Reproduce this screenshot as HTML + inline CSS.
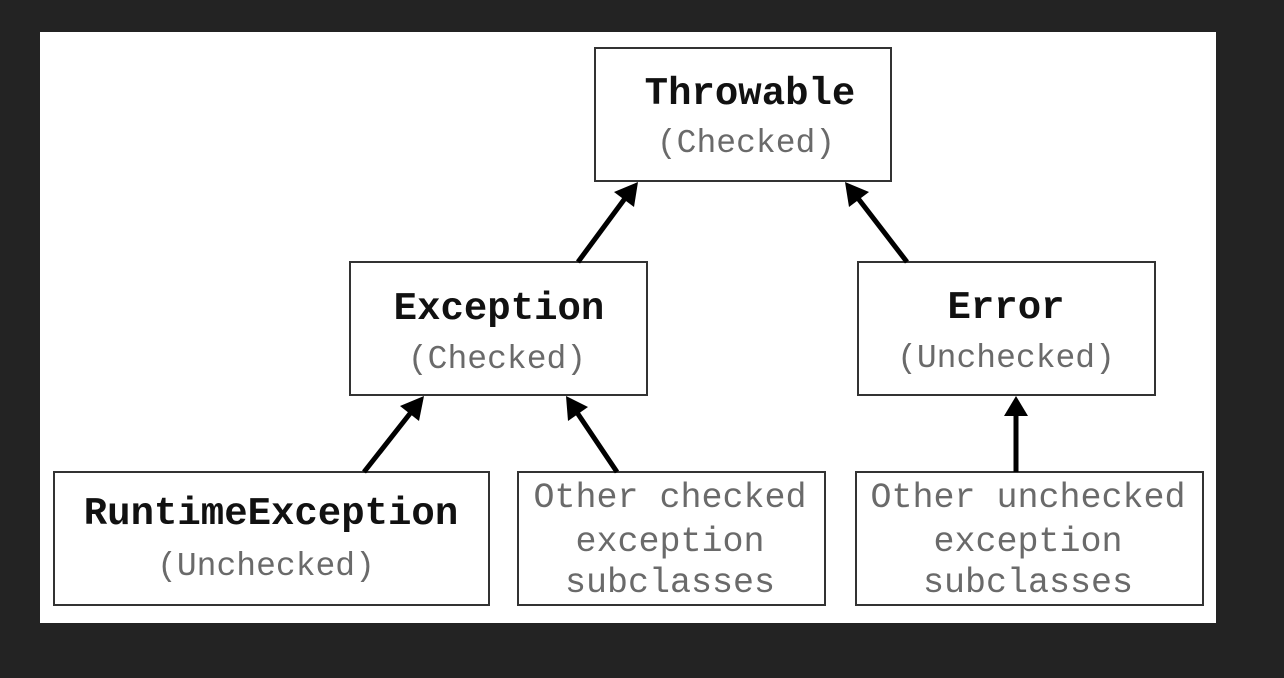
<!DOCTYPE html>
<html><head><style>
html,body{margin:0;padding:0;background:#222;}
svg{display:block}
.b{font-family:"Liberation Mono",monospace;font-weight:bold;fill:#111;}
.s{font-family:"Liberation Mono",monospace;fill:#6a6a6a;}
</style></head><body>
<svg width="1284" height="678" xmlns="http://www.w3.org/2000/svg">
<rect x="0" y="0" width="1284" height="678" fill="#232323"/>
<rect x="40" y="32" width="1176" height="591" fill="#fff"/>
<g fill="#fff" stroke="#333" stroke-width="2">
<rect x="595" y="48" width="296" height="133"/>
<rect x="350" y="262" width="297" height="133"/>
<rect x="858" y="262" width="297" height="133"/>
<rect x="54" y="472" width="435" height="133"/>
<rect x="518" y="472" width="307" height="133"/>
<rect x="856" y="472" width="347" height="133"/>
</g>
<g stroke="#000" stroke-width="5" fill="#000">
<line x1="578" y1="262" x2="626" y2="197"/><path d="M638,182 L634,207 L614,192 Z" stroke="none"/>
<line x1="907" y1="262" x2="857" y2="197"/><path d="M845,182 L849,207 L869,192 Z" stroke="none"/>
<line x1="364" y1="472" x2="412" y2="411"/><path d="M424,396 L419,421 L400,406 Z" stroke="none"/>
<line x1="617" y1="472" x2="576" y2="411"/><path d="M566,396 L568,421 L588,407 Z" stroke="none"/>
<line x1="1016" y1="472" x2="1016" y2="412"/><path d="M1016,396 L1028,416 L1004,416 Z" stroke="none"/>
</g>
<g text-anchor="middle">
<text class="b" x="750" y="104" font-size="39">Throwable</text>
<text class="s" x="746" y="152" font-size="33">(Checked)</text>
<text class="b" x="499" y="319" font-size="39">Exception</text>
<text class="s" x="497" y="368" font-size="33">(Checked)</text>
<text class="b" x="1006" y="318" font-size="39">Error</text>
<text class="s" x="1006" y="367" font-size="33">(Unchecked)</text>
<text class="b" x="271" y="524" font-size="39">RuntimeException</text>
<text class="s" x="266" y="575" font-size="33">(Unchecked)</text>
<text class="s" x="670" y="507" font-size="35">Other checked</text>
<text class="s" x="670" y="551" font-size="35">exception</text>
<text class="s" x="670" y="592" font-size="35">subclasses</text>
<text class="s" x="1028" y="507" font-size="35">Other unchecked</text>
<text class="s" x="1028" y="551" font-size="35">exception</text>
<text class="s" x="1028" y="592" font-size="35">subclasses</text>
</g>
</svg>
</body></html>
